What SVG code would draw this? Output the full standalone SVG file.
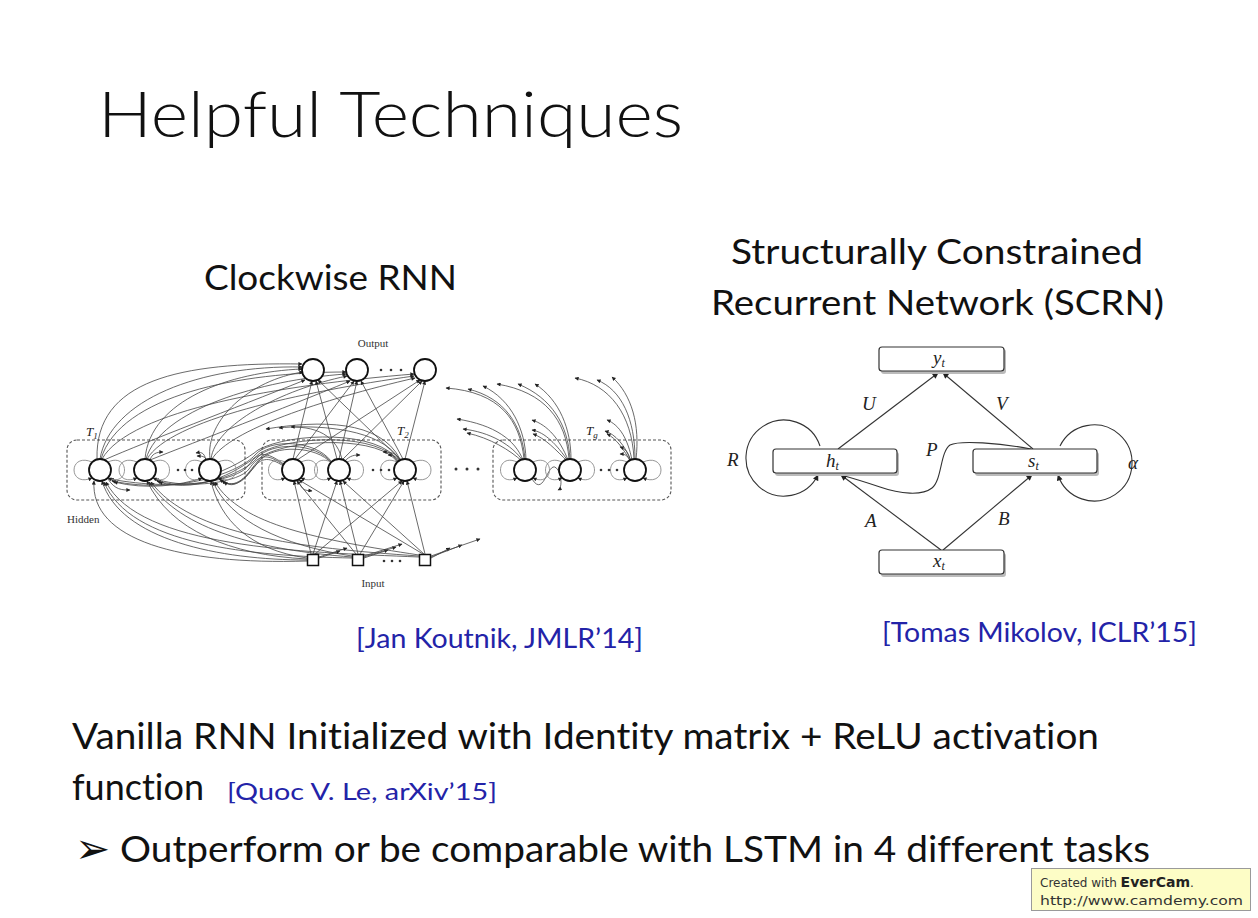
<svg xmlns="http://www.w3.org/2000/svg" width="1258" height="918" viewBox="0 0 1258 918">
<style>
text{font-variant-ligatures:none;font-feature-settings:"liga" 0}
.ttl{font-family:Lato,"Open Sans","Liberation Sans",sans-serif;font-weight:300;fill:#111}
.hd{font-family:Lato,"Open Sans","Liberation Sans",sans-serif;fill:#111}
.cite{font-family:Lato,"Open Sans","Liberation Sans",sans-serif;fill:#2323a8}
.body{font-family:Lato,"Open Sans","Liberation Sans",sans-serif;fill:#111}
.cn{fill:#fff;stroke:#111;stroke-width:1.8}
.sq{fill:#fff;stroke:#111;stroke-width:1.5}
.e{fill:none;stroke:#444;stroke-width:0.8}
.ea{fill:none;stroke:#444;stroke-width:0.8;marker-end:url(#ah)}
.ga{fill:none;stroke:#8a8a8a;stroke-width:0.9;marker-end:url(#ah)}
.mod{fill:none;stroke:#555;stroke-width:1.1;stroke-dasharray:3,2}
.sl{font-family:"Liberation Serif","DejaVu Serif",serif;font-size:11px;fill:#333}
.ti{font-family:"Liberation Serif","DejaVu Serif",serif;font-style:italic;fill:#222}
.dot{fill:#333}
.sbox{fill:#fff;stroke:#333;stroke-width:1.2}
.shd{fill:#bbb}
.sc{fill:none;stroke:#333;stroke-width:1.1}
.sca{fill:none;stroke:#333;stroke-width:1.1;marker-end:url(#as)}
.ml{font-family:"Liberation Serif","DejaVu Serif",serif;font-style:italic;font-size:19px;fill:#222}
</style>
<defs>
<marker id="ah" viewBox="0 0 10 10" refX="9" refY="5" markerWidth="5" markerHeight="4" markerUnits="userSpaceOnUse" orient="auto"><path d="M0,0 L10,5 L0,10 z" fill="#222"/></marker>
<marker id="as" viewBox="0 0 10 10" refX="9" refY="5" markerWidth="7" markerHeight="6" markerUnits="userSpaceOnUse" orient="auto"><path d="M0,0 L10,5 L0,10 z" fill="#222"/></marker>
</defs>
<rect x="0" y="0" width="1258" height="918" fill="#fff"/>

<g id="title"><text class="ttl" x="98" y="137" font-size="63" textLength="585" lengthAdjust="spacingAndGlyphs">Helpful Techniques</text></g>
<g id="heading-cwrnn"><text class="hd" x="204" y="290" font-size="34" textLength="253" lengthAdjust="spacingAndGlyphs">Clockwise RNN</text></g>
<g id="heading-scrn">
<text class="hd" x="731" y="264" font-size="34" textLength="412" lengthAdjust="spacingAndGlyphs">Structurally Constrained</text>
<text class="hd" x="711" y="315" font-size="34" textLength="453" lengthAdjust="spacingAndGlyphs">Recurrent Network (SCRN)</text>
</g>

<!-- Clockwise RNN figure -->
<g id="cw-modules">
<rect class="mod" x="67" y="440" width="178" height="60" rx="10"/>
<rect class="mod" x="262" y="440" width="179" height="60" rx="10"/>
<rect class="mod" x="493" y="440" width="178" height="60" rx="10"/>
<text class="ti" x="86" y="436" font-size="13">T<tspan font-size="9" dy="3">1</tspan></text>
<text class="ti" x="397" y="435" font-size="13">T<tspan font-size="9" dy="3">2</tspan></text>
<text class="ti" x="586" y="435" font-size="13">T<tspan font-size="9" dy="3">g</tspan></text>
<text class="sl" x="373" y="347" text-anchor="middle">Output</text>
<text class="sl" x="373" y="587" text-anchor="middle">Input</text>
<text class="sl" x="67" y="523">Hidden</text>
</g>

<g id="cw-connectors">
<path class="ea" d="M97,459 C95,380 180,362 302,364"/>
<path class="ea" d="M100,459 C110,400 200,365 302,367"/>
<path class="ea" d="M101,459 C120,395 240,372 346,372"/>
<path class="ea" d="M102,459 C130,410 280,385 414,374"/>
<path class="ea" d="M145,459 C150,400 230,372 302,369"/>
<path class="ea" d="M146,459 C160,410 260,380 346,374"/>
<path class="ea" d="M147,459 C170,420 300,392 414,376"/>
<path class="ea" d="M210,459 C205,420 250,380 303,372"/>
<path class="ea" d="M211,459 C215,425 280,390 347,376"/>
<path class="ea" d="M212,459 C230,430 320,400 415,378"/>
<path class="ea" d="M104,460 C150,440 230,410 305,380"/>
<path class="ea" d="M150,460 C200,440 280,410 350,381"/>
<path class="ea" d="M293,459 L312,381"/>
<path class="ea" d="M295,459 L354,381"/>
<path class="ea" d="M297,460 L420,380"/>
<path class="ea" d="M337,459 L316,381"/>
<path class="ea" d="M339,459 L357,381"/>
<path class="ea" d="M342,460 L422,381"/>
<path class="ea" d="M401,460 L318,380"/>
<path class="ea" d="M403,459 L361,381"/>
<path class="ea" d="M405,459 L425,381"/>
<path class="ea" d="M524,459 C520,420 500,392 446,388"/>
<path class="ea" d="M525,459 C522,425 505,398 468,389"/>
<path class="ea" d="M526,459 C525,430 512,400 483,386"/>
<path class="ea" d="M523,460 C515,440 495,425 457,419"/>
<path class="ea" d="M523,461 C512,445 490,432 463,429"/>
<path class="ea" d="M523,462 C510,450 490,438 467,433"/>
<path class="ea" d="M569,459 C566,420 545,392 497,384"/>
<path class="ea" d="M570,459 C568,425 552,398 518,384"/>
<path class="ea" d="M571,459 C571,430 560,400 535,384"/>
<path class="ea" d="M568,460 C560,440 548,425 532,420"/>
<path class="ea" d="M568,461 C557,445 545,432 532,430"/>
<path class="ea" d="M568,462 C556,450 545,438 533,434"/>
<path class="ea" d="M634,459 C632,415 610,385 575,378"/>
<path class="ea" d="M635,459 C635,420 622,390 597,380"/>
<path class="ea" d="M636,459 C640,425 632,395 612,377"/>
<path class="ea" d="M632,460 C628,440 620,425 607,420"/>
<path class="ea" d="M631,461 C625,445 615,434 605,431"/>
<path class="ea" d="M631,462 C624,450 616,438 607,434"/>
<path class="ea" d="M631,462 C628,452 626,449 620,447"/>
<path class="ea" d="M631,463 C628,456 626,454 620,454"/>
<path class="ea" d="M532,479 C545,500 548,455 558,470 C562,478 562,488 558,490"/>
<path class="ea" d="M307,560 C220,560 120,540 102,481"/>
<path class="ea" d="M307,559 C230,555 170,530 147,481"/>
<path class="ea" d="M307,558 C250,550 220,520 211,481"/>
<path class="ea" d="M352,558 C250,556 130,545 104,482"/>
<path class="ea" d="M352,557 C260,550 180,530 149,482"/>
<path class="ea" d="M352,556 C280,545 230,520 213,482"/>
<path class="ea" d="M419,557 C300,552 140,548 106,482"/>
<path class="ea" d="M419,556 C300,548 190,535 151,482"/>
<path class="ea" d="M419,555 C320,540 240,525 215,482"/>
<path class="ea" d="M307,561 C180,565 90,540 94,481"/>
<path class="ea" d="M311,554 L294,481"/>
<path class="ea" d="M313,554 L337,481"/>
<path class="ea" d="M315,554 L402,481"/>
<path class="ea" d="M356,554 L297,481"/>
<path class="ea" d="M358,554 L340,481"/>
<path class="ea" d="M360,554 L404,481"/>
<path class="ea" d="M423,554 L299,480"/>
<path class="ea" d="M424,554 L343,481"/>
<path class="ea" d="M425,554 L407,481"/>
<path class="ea" d="M319,558 L340,551"/>
<path class="ea" d="M319,557 L347,548"/>
<path class="ea" d="M364,558 L388,550"/>
<path class="ea" d="M364,557 L396,547"/>
<path class="ea" d="M364,556 L402,544"/>
<path class="ea" d="M431,558 L450,548"/>
<path class="ea" d="M431,557 L462,545"/>
<path class="ea" d="M431,556 L480,539"/>
<path class="ea" d="M285,465 C265,450 258,452 248,466 C238,480 180,492 110,479"/>
<path class="ea" d="M285,466 C266,452 259,455 249,469 C240,482 190,490 155,479"/>
<path class="ea" d="M285,467 C267,455 260,458 250,472 C242,484 230,488 220,479"/>
<path class="ea" d="M331,461 C315,440 270,438 255,455 C240,472 180,495 112,481"/>
<path class="ea" d="M331,462 C316,443 272,441 257,458 C244,474 195,492 157,481"/>
<path class="ea" d="M331,463 C317,446 274,444 259,461 C248,476 235,490 222,481"/>
<path class="ea" d="M398,461 C380,430 290,432 258,450 C240,465 180,498 114,482"/>
<path class="ea" d="M398,462 C381,433 292,435 260,453 C244,468 200,495 159,482"/>
<path class="ea" d="M398,463 C382,436 294,438 262,456 C248,472 238,492 224,482"/>
<path class="ea" d="M400,459 C380,420 320,420 266,429"/>
<path class="ea" d="M342,459 C335,432 310,424 279,428"/>
<path class="ea" d="M400,460 C380,428 320,426 291,427"/>
<path class="ea" d="M399,460 C396,453 392,452 383,452"/>
<path class="ea" d="M399,461 C396,456 393,455 388,455"/>
<path class="ea" d="M344,462 C350,455 355,455 360,455"/>
<path class="ea" d="M298,479 C302,492 306,490 312,491"/>
<path class="ea" d="M206,460 C204,452 201,452 196,453"/>
<path class="ea" d="M207,461 C205,456 202,456 197,456"/>
<path class="ea" d="M150,460 C152,454 156,452 163,452"/>
<path class="ea" d="M108,479 C115,490 122,490 130,490"/>
<path class="ga" d="M92,462 C68,452 68,488 92,478"/>
<path class="ga" d="M108,462 C130,452 130,488 108,478"/>
<path class="ga" d="M137,462 C113,452 113,488 137,478"/>
<path class="ga" d="M153,462 C175,452 175,488 153,478"/>
<path class="ga" d="M202,462 C180,452 180,488 202,478"/>
<path class="ga" d="M218,462 C242,452 242,488 218,478"/>
<path class="ga" d="M285,462 C263,452 263,488 285,478"/>
<path class="ga" d="M301,462 C323,452 323,488 301,478"/>
<path class="ga" d="M331,462 C309,452 309,488 331,478"/>
<path class="ga" d="M347,462 C369,452 369,488 347,478"/>
<path class="ga" d="M397,462 C375,452 375,488 397,478"/>
<path class="ga" d="M413,462 C437,452 437,488 413,478"/>
<path class="ga" d="M517,462 C495,452 495,488 517,478"/>
<path class="ga" d="M533,462 C555,452 555,488 533,478"/>
<path class="ga" d="M562,462 C540,452 540,488 562,478"/>
<path class="ga" d="M578,462 C600,452 600,488 578,478"/>
<path class="ga" d="M627,462 C605,452 605,488 627,478"/>
<path class="ga" d="M643,462 C667,452 667,488 643,478"/>
</g>

<g id="cw-output">
<circle class="cn" cx="313" cy="370" r="11"/>
<circle class="cn" cx="357" cy="370" r="11"/>
<circle class="cn" cx="425" cy="370" r="11"/>
<circle class="dot" cx="381" cy="370" r="1.3"/><circle class="dot" cx="391" cy="370" r="1.3"/><circle class="dot" cx="401" cy="370" r="1.3"/>
</g>
<g id="cw-hidden">
<circle class="cn" cx="100" cy="470" r="11"/>
<circle class="cn" cx="145" cy="470" r="11"/>
<circle class="cn" cx="210" cy="470" r="11"/>
<circle class="cn" cx="293" cy="470" r="11"/>
<circle class="cn" cx="339" cy="470" r="11"/>
<circle class="cn" cx="405" cy="470" r="11"/>
<circle class="cn" cx="525" cy="470" r="11"/>
<circle class="cn" cx="570" cy="470" r="11"/>
<circle class="cn" cx="635" cy="470" r="11"/>
<circle class="dot" cx="178" cy="470" r="1.3"/><circle class="dot" cx="185" cy="470" r="1.3"/><circle class="dot" cx="192" cy="470" r="1.3"/>
<circle class="dot" cx="373" cy="470" r="1.3"/><circle class="dot" cx="381" cy="470" r="1.3"/><circle class="dot" cx="389" cy="470" r="1.3"/>
<circle class="dot" cx="456" cy="469" r="1.5"/><circle class="dot" cx="467" cy="469" r="1.5"/><circle class="dot" cx="478" cy="469" r="1.5"/>
<circle class="dot" cx="601" cy="470" r="1.3"/><circle class="dot" cx="609" cy="470" r="1.3"/><circle class="dot" cx="617" cy="470" r="1.3"/>
</g>
<g id="cw-input">
<rect class="sq" x="307.5" y="554.5" width="11" height="11"/>
<rect class="sq" x="352.5" y="554.5" width="11" height="11"/>
<rect class="sq" x="419.5" y="554.5" width="11" height="11"/>
<circle class="dot" cx="384" cy="561" r="1.3"/><circle class="dot" cx="392" cy="561" r="1.3"/><circle class="dot" cx="400" cy="561" r="1.3"/>
</g>

<!-- SCRN figure -->
<g id="scrn-connectors">
<path class="sca" d="M838,449 L938,373"/>
<path class="sca" d="M1033,449 L943,373"/>
<path class="sca" d="M941,550 L841,475"/>
<path class="sca" d="M943,550 L1032,475"/>
<path class="sca" d="M1031,449 C1000,443 960,440 950,445 C940,452 942,480 932,488 C922,496 900,494 880,487 C865,482 852,478 841,475"/>
<path class="sca" d="M820,446 A38,38 0 1 0 818,475"/>
<path class="sca" d="M1060,446 A38,38 0 1 1 1058,475"/>
</g>
<g id="scrn-labels">
<text class="ml" x="862" y="410">U</text>
<text class="ml" x="996" y="410">V</text>
<text class="ml" x="727" y="466">R</text>
<text class="ml" x="926" y="456">P</text>
<text class="ml" x="865" y="527">A</text>
<text class="ml" x="998" y="525">B</text>
<text class="ml" x="1128" y="469">α</text>
</g>
<g id="node-yt">
<rect class="shd" x="881" y="349" width="125" height="25" rx="3"/>
<rect class="sbox" x="879" y="347" width="125" height="24" rx="3"/>
<text class="ml" x="933" y="364" font-size="17">y<tspan font-size="12" dy="3">t</tspan></text>
</g>
<g id="node-ht">
<rect class="shd" x="775" y="452" width="124" height="24" rx="3"/>
<rect class="sbox" x="773" y="449" width="124" height="24" rx="3"/>
<text class="ml" x="826" y="467" font-size="17">h<tspan font-size="12" dy="3">t</tspan></text>
</g>
<g id="node-st">
<rect class="shd" x="975" y="452" width="124" height="24" rx="3"/>
<rect class="sbox" x="973" y="449" width="124" height="24" rx="3"/>
<text class="ml" x="1028" y="467" font-size="17">s<tspan font-size="12" dy="3">t</tspan></text>
</g>
<g id="node-xt">
<rect class="shd" x="881" y="553" width="125" height="24" rx="3"/>
<rect class="sbox" x="879" y="550" width="125" height="24" rx="3"/>
<text class="ml" x="933" y="567" font-size="17">x<tspan font-size="12" dy="3">t</tspan></text>
</g>

<g id="citations">
<text class="cite" x="356" y="648" font-size="26" textLength="287" lengthAdjust="spacingAndGlyphs">[Jan Koutnik, JMLR’14]</text>
<text class="cite" x="882" y="642" font-size="26" textLength="315" lengthAdjust="spacingAndGlyphs">[Tomas Mikolov, ICLR’15]</text>
</g>

<g id="body-text">
<text class="body" x="72" y="749" font-size="37" textLength="1027" lengthAdjust="spacingAndGlyphs">Vanilla RNN Initialized with Identity matrix + ReLU activation</text>
<text class="body" x="72" y="800" font-size="37" textLength="132" lengthAdjust="spacingAndGlyphs">function</text>
<text class="cite" x="227" y="800" font-size="24" textLength="270" lengthAdjust="spacingAndGlyphs">[Quoc V. Le, arXiv’15]</text>
<text x="75" y="863" font-family="'DejaVu Sans',sans-serif" font-size="42" fill="#111" font-weight="bold">➢</text>
<text class="body" x="120" y="862" font-size="37" textLength="1030" lengthAdjust="spacingAndGlyphs">Outperform or be comparable with LSTM in 4 different tasks</text>
</g>

<g id="watermark">
<rect x="1031.5" y="868.5" width="219" height="42" fill="#fdfdc6" stroke="#9a9a9a" stroke-width="1"/>
<text x="1040" y="887" font-family="'DejaVu Sans',sans-serif" font-size="12" fill="#333">Created with <tspan font-weight="bold" font-size="14" fill="#222">EverCam</tspan>.</text>
<text x="1040" y="905" font-family="'DejaVu Sans',sans-serif" font-size="12" fill="#333" textLength="203" lengthAdjust="spacingAndGlyphs">http://www.camdemy.com</text>
</g>
</svg>
